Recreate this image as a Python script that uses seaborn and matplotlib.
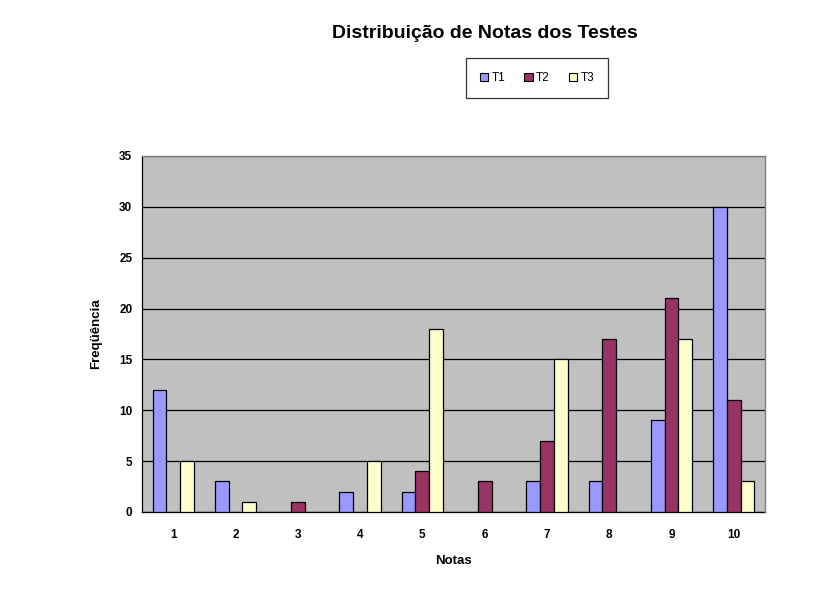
import matplotlib
matplotlib.use("Agg")
import matplotlib.pyplot as plt
import seaborn as sns
import pandas as pd
import numpy as np

# data
notas = [1, 2, 3, 4, 5, 6, 7, 8, 9, 10]
t1 = [12, 3, 0, 2, 2, 0, 3, 3, 9, 30]
t2 = [0, 0, 1, 0, 4, 3, 7, 17, 21, 11]
t3 = [5, 1, 0, 5, 18, 0, 15, 0, 17, 3]
series = ["T1", "T2", "T3"]
colors = ["#9999FF", "#993366", "#FFFFCC"]

df = pd.DataFrame({"Notas": notas, "T1": t1, "T2": t2, "T3": t3})
long = df.melt(id_vars="Notas", var_name="Teste", value_name="Freq")

sns.set_style("white")
plt.rcParams["font.family"] = ["Liberation Sans", "DejaVu Sans"]
plt.rcParams["text.color"] = "black"
plt.rcParams["xtick.color"] = "black"
plt.rcParams["ytick.color"] = "black"
plt.rcParams["axes.labelcolor"] = "black"

fig = plt.figure(figsize=(8.19, 6.04), dpi=100)
ax = fig.add_axes([142 / 819, 1 - 512 / 604, (765 - 142) / 819, (512 - 156) / 604])
ax.set_facecolor("#C0C0C0")

sns.barplot(data=long, x="Notas", y="Freq", hue="Teste", hue_order=series,
            palette=colors, saturation=1, width=0.66, gap=0, edgecolor="black",
            linewidth=0.9, ax=ax, zorder=3, legend=False)

# zero-height bars should not leave an outline on the baseline
for cont in ax.containers:
    for b in cont:
        if b.get_height() == 0:
            b.set_linewidth(0)

ax.set_ylim(0, 35)
ax.set_xlim(-0.5, 9.5)
ax.set_yticks(range(0, 36, 5))
ax.yaxis.grid(True, color="black", linewidth=0.9, zorder=1)
ax.set_axisbelow(True)
for s in ["top", "right"]:
    ax.spines[s].set_color("#808080")
    ax.spines[s].set_linewidth(1.0)
    ax.spines[s].set_zorder(5)
ax.spines["left"].set_color("black")
ax.spines["bottom"].set_color("black")
ax.spines["left"].set_linewidth(0.9)
ax.spines["bottom"].set_linewidth(0.9)

ax.set_xticks(range(10))
ax.set_xticklabels([str(n) for n in notas])
ax.set_xticks(np.arange(-0.5, 10, 1), minor=True)
ax.tick_params(axis="x", which="major", length=0, pad=12)
ax.tick_params(axis="x", which="minor", length=5, width=0.9, color="black", direction="out")
ax.tick_params(axis="y", length=4, width=0.9, color="black", direction="out", pad=3)
for lab in ax.get_xticklabels() + ax.get_yticklabels():
    lab.set_fontsize(8.5)
    lab.set_fontweight("bold")

ax.set_xlabel("Notas", fontsize=9.5, fontweight="bold", labelpad=10)
ax.set_ylabel("Freqüência", fontsize=9.5, fontweight="bold", labelpad=12)

fig.text(485 / 819, 1 - 33 / 604, "Distribuição de Notas dos Testes",
         ha="center", va="center", fontsize=14, fontweight="bold")

handles = [plt.Rectangle((0, 0), 1, 1, facecolor=c, edgecolor="black", linewidth=0.8)
           for c in colors]
leg = fig.legend(handles, series, loc="center", bbox_to_anchor=(537 / 819, 1 - 78 / 604),
                 ncol=3, frameon=True, fancybox=False, edgecolor="black",
                 fontsize=8.5, handlelength=0.7, handleheight=0.7, handletextpad=0.3,
                 columnspacing=1.6, borderpad=1.2)
leg.get_frame().set_linewidth(0.9)

fig.savefig("out.png", dpi=100, facecolor="white")
